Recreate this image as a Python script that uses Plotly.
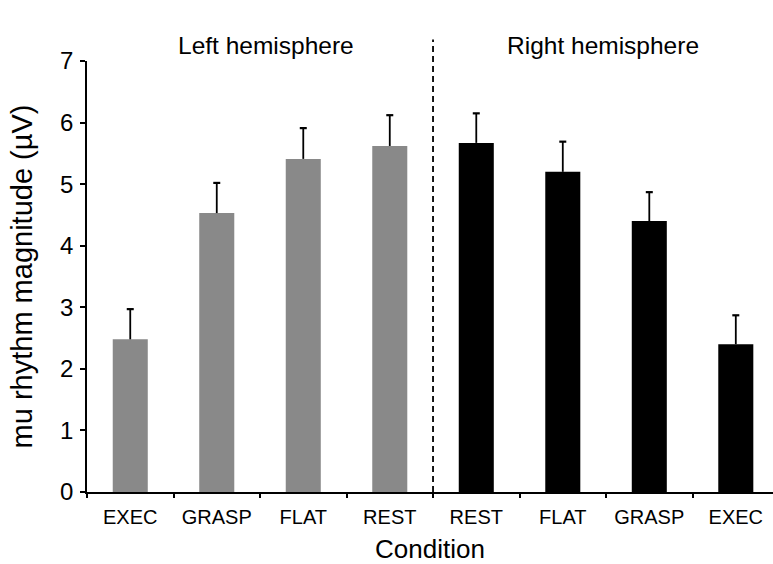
import plotly.graph_objects as go

# Mu rhythm magnitude by condition, per hemisphere
left_conditions = ["EXEC", "GRASP", "FLAT", "REST"]
right_conditions = ["REST", "FLAT", "GRASP", "EXEC"]
left_means = [2.48, 4.53, 5.41, 5.62]
left_sem = [0.49, 0.49, 0.50, 0.50]
right_means = [5.67, 5.20, 4.40, 2.40]
right_sem = [0.48, 0.49, 0.47, 0.47]
group_titles = ["Left hemisphere", "Right hemisphere"]

y_ticks = [0, 1, 2, 3, 4, 5, 6, 7]

n_left = len(left_conditions)
n_right = len(right_conditions)
left_x = list(range(n_left))
right_x = list(range(n_left, n_left + n_right))
all_labels = left_conditions + right_conditions
all_x = left_x + right_x

x_min, x_max = -0.5, n_left + n_right - 0.57
font = "Liberation Sans, Arial, Helvetica, sans-serif"


def upper_err(vals):
    # stem only; caps are drawn separately so nothing shows at the bar top
    return dict(type="data", symmetric=False, array=vals,
                arrayminus=[0] * len(vals), color="black",
                thickness=1.8, width=0)


fig = go.Figure()
for xs, means, sems, colour in [(left_x, left_means, left_sem, "#898989"),
                                (right_x, right_means, right_sem, "black")]:
    fig.add_trace(go.Bar(x=xs, y=means, width=0.405,
                         marker=dict(color=colour, line=dict(width=0)),
                         error_y=upper_err(sems), showlegend=False))
    # horizontal caps at mean + sem
    fig.add_trace(go.Scatter(x=xs, y=[m + s for m, s in zip(means, sems)],
                             mode="markers", showlegend=False, hoverinfo="skip",
                             marker=dict(symbol="line-ew", size=5,
                                         line=dict(color="black", width=2.2))))

# dashed divider between the hemispheres, running above the plot top
divider = n_left - 0.5
fig.add_shape(type="line", xref="paper", yref="paper",
              x0=(divider - x_min) / (x_max - x_min),
              x1=(divider - x_min) / (x_max - x_min),
              y0=0, y1=1.05,
              line=dict(color="black", width=1.8, dash="6px,4px"))

centers = [(left_x[0] + left_x[-1]) / 2 + 0.07, (right_x[0] + right_x[-1]) / 2 - 0.04]
for title, cx in zip(group_titles, centers):
    fig.add_annotation(x=cx, xref="x", y=1.037, yref="paper",
                       yanchor="middle", xanchor="center",
                       text=title, showarrow=False,
                       font=dict(size=24.5, color="black", family=font))

fig.update_layout(
    width=773, height=564,
    margin=dict(l=87, r=0, t=61, b=72),
    paper_bgcolor="white", plot_bgcolor="white",
    barmode="overlay",
    font=dict(family=font, color="black"),
)
fig.update_xaxes(
    range=[x_min, x_max],
    tickvals=all_x, ticktext=all_labels,
    ticks="outside", ticklen=0,
    tickfont=dict(size=20, color="black"),
    minor=dict(tick0=-0.5, dtick=1, ticks="outside", ticklen=4,
               tickwidth=1.5, tickcolor="black"),
    showline=True, linecolor="black", linewidth=1.6,
    showgrid=False, zeroline=False,
    ticklabelstandoff=6,
    title=dict(text="Condition", font=dict(size=26, color="black"), standoff=14),
)
fig.update_yaxes(
    range=[0, 7], tickvals=y_ticks,
    ticks="outside", ticklen=5, tickwidth=1.5, tickcolor="black",
    tickfont=dict(size=24, color="black"),
    showline=True, linecolor="black", linewidth=1.6,
    showgrid=False, zeroline=False,
    ticklabelstandoff=2,
    title=dict(text="mu rhythm magnitude (µV)", font=dict(size=29, color="black"),
               standoff=19),
)

fig.write_html("out.html")
